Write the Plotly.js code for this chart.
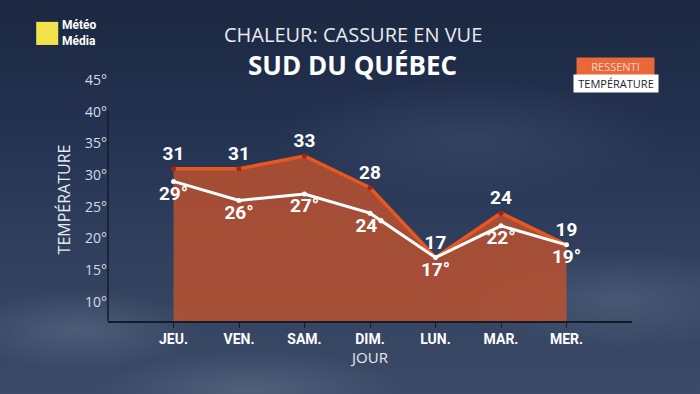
<!DOCTYPE html>
<html>
<head>
<meta charset="utf-8">
<script src="https://cdn.plot.ly/plotly-3.0.1.min.js"></script>
<style>
html,body{margin:0;padding:0;}
body{width:700px;height:394px;overflow:hidden;
background:
 radial-gradient(ellipse 120px 40px at 80px 330px, rgba(120,135,160,0.35), rgba(0,0,0,0)),
 radial-gradient(ellipse 160px 50px at 620px 300px, rgba(110,125,150,0.35), rgba(0,0,0,0)),
 radial-gradient(ellipse 200px 60px at 470px 140px, rgba(80,95,125,0.35), rgba(0,0,0,0)),
 radial-gradient(ellipse 150px 40px at 250px 390px, rgba(120,135,160,0.35), rgba(0,0,0,0)),
 linear-gradient(to bottom, #1c2841 0%, #233150 30%, #2f3e5c 60%, #3b4a66 100%);}
#chart{width:700px;height:394px;}
</style>
</head>
<body>
<div id="chart"></div>
<script>
const days = ["JEU.", "VEN.", "SAM.", "DIM.", "LUN.", "MAR.", "MER."];
const ressenti = [31, 31, 33, 28, 17, 24, 19];
const temperature = [29, 26, 27, 24, 17, 22, 19];
const yTicks = [10, 15, 20, 25, 30, 35, 40, 45];

const lbl = "Roboto, 'DejaVu Sans', sans-serif";
const ttl = "'Open Sans', sans-serif";

const traces = [
  {
    x: days, y: ressenti, type: "scatter", mode: "lines+markers+text",
    fill: "tozeroy", fillcolor: "rgba(192,82,46,0.82)",
    line: {color: "#e8571d", width: 3.5},
    marker: {color: "#a8201a", size: 5},
    text: ressenti.map(String), textposition: "top center",
    textfont: {family: lbl, size: 19, color: "#ffffff", weight: 700},
    cliponaxis: false, hoverinfo: "skip", showlegend: false
  },
  {
    x: days, y: temperature, type: "scatter", mode: "lines+markers+text",
    line: {color: "#ffffff", width: 3},
    marker: {color: "#ffffff", size: 5},
    text: temperature.map(v => v + "°"), textposition: "bottom center",
    textfont: {family: lbl, size: 19, color: "#ffffff", weight: 700},
    cliponaxis: false, hoverinfo: "skip", showlegend: false
  }
];

const layout = {
  width: 700, height: 394,
  paper_bgcolor: "rgba(0,0,0,0)", plot_bgcolor: "rgba(0,0,0,0)",
  margin: {l: 108, r: 68, t: 78, b: 73},
  xaxis: {
    type: "category", range: [-1, 7], showgrid: false, zeroline: false,
    showline: true, linecolor: "#141c2c", linewidth: 1.5,
    ticks: "outside", ticklen: 5, tickcolor: "#141c2c",
    tickfont: {family: lbl, size: 14, color: "#ffffff", weight: 700},
    title: {text: "JOUR", font: {family: ttl, size: 15, color: "#e8ebf0"}, standoff: 0}
  },
  yaxis: {
    range: [7, 45.3], tickvals: yTicks, ticktext: yTicks.map(v => v + "°"),
    showgrid: false, zeroline: false, showline: false, ticks: "",
    tickfont: {family: ttl, size: 14, color: "#d6dae2"},
    title: {text: "TEMPÉRATURE", font: {family: ttl, size: 16, color: "#e8ebf0"}, standoff: 10}
  },
  shapes: [
    {type: "line", xref: "paper", yref: "y", x0: 0, x1: 0, y0: 7, y1: 40.2,
     line: {color: "#141c2c", width: 1.5}},
    {type: "rect", xref: "paper", yref: "paper", x0: -0.137, x1: -0.095, y0: 1.136, y1: 1.231,
     fillcolor: "#f2e34a", line: {width: 0}}
  ],
  annotations: [
    {text: "CHALEUR: CASSURE EN VUE", xref: "paper", yref: "paper", x: 0.467, y: 1.181,
     showarrow: false, font: {family: ttl, size: 20, color: "#e8ebf0"}, xanchor: "center", yanchor: "middle"},
    {text: "<b>SUD DU QUÉBEC</b>", xref: "paper", yref: "paper", x: 0.467, y: 1.053,
     showarrow: false, font: {family: ttl, size: 26, color: "#ffffff"}, xanchor: "center", yanchor: "middle"},
    {text: "<b>Météo<br>Média</b>", xref: "paper", yref: "paper", x: -0.092, y: 1.185,
     showarrow: false, align: "left", xanchor: "left", yanchor: "middle",
     font: {family: lbl, size: 12, color: "#ffffff"}},
    {text: "RESSENTI", xref: "paper", yref: "paper", x: 0.969, y: 1.049,
     showarrow: false, xanchor: "center", yanchor: "middle", bgcolor: "#e8683a",
     borderpad: 1, width: 75, font: {family: ttl, size: 11, color: "#f6d8cc"}},
    {text: "TEMPÉRATURE", xref: "paper", yref: "paper", x: 0.969, y: 0.979,
     showarrow: false, xanchor: "center", yanchor: "middle", bgcolor: "#ffffff",
     borderpad: 1, width: 82, font: {family: ttl, size: 11, color: "#1a2233"}}
  ]
};

Plotly.newPlot("chart", traces, layout, {displayModeBar: false, staticPlot: true});
</script>
</body>
</html>
